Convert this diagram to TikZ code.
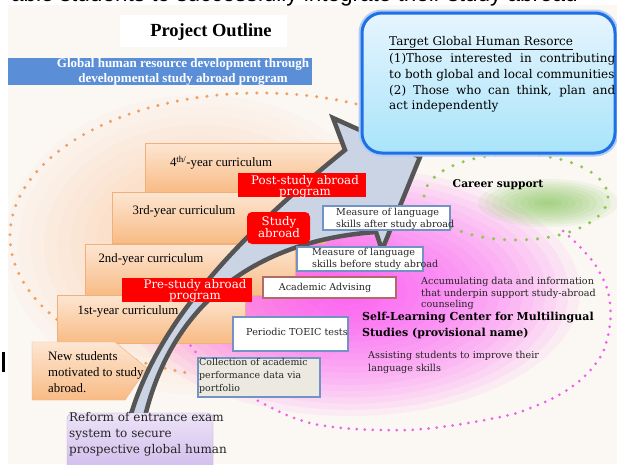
\documentclass[tikz,border=0pt]{standalone}
\usepackage{fontspec}
\setmainfont{Liberation Serif}
\newfontfamily\centfont{DejaVu Serif}
\newfontfamily\topfont{Liberation Sans}
\newcommand\fsz[2]{\fontsize{#1}{#2}\selectfont}
\definecolor{panelbg}{HTML}{FBF7F3}
\definecolor{bannerblue}{HTML}{5A8ED6}
\definecolor{targetblue}{HTML}{1F6FE5}
\definecolor{targettop}{HTML}{E6F5FE}
\definecolor{targetbot}{HTML}{A9E4FA}
\definecolor{dotorange}{HTML}{EFA064}
\definecolor{dotgreen}{HTML}{8CC84B}
\definecolor{dotpink}{HTML}{EE5FEE}
\definecolor{arrowfill}{HTML}{CBD4E4}
\definecolor{arrowline}{HTML}{555555}
\definecolor{steptop}{HTML}{FDE6D2}
\definecolor{stepbot}{HTML}{F8BB85}
\definecolor{stepline}{HTML}{F0B07C}
\definecolor{boxline}{HTML}{7393C4}
\definecolor{advline}{HTML}{B06A6A}
\definecolor{collfill}{HTML}{ECEAE0}
\definecolor{reformtop}{HTML}{EDE4F7}
\definecolor{reformbot}{HTML}{CBB5EA}
\definecolor{reformline}{HTML}{B9A2DA}
\definecolor{glowpink}{HTML}{FF3CFF}
\definecolor{glowgreen}{HTML}{6DBE3A}
\begin{document}
\begin{tikzpicture}[x=1pt, y=-1pt,
  yearbox/.style={draw=stepline, top color=steptop, bottom color=stepbot},
  yeartext/.style={font=\fsz{12.8}{16}, align=left, inner sep=0pt},
  redtext/.style={text=white, font=\centfont\fsz{11.8}{10.6}, align=center, inner sep=0pt},
  mbox/.style={draw=boxline, line width=1.5pt, fill=white},
  boxtext/.style={font=\centfont\fsz{9.6}{12.3}, text=black!85, align=left, inner sep=0pt, anchor=west},
  orangedots/.style={draw=dotorange, line width=3.4pt, line cap=round, dash pattern=on 0pt off 10pt},
  greendots/.style={draw=dotgreen, line width=3.4pt, line cap=round, dash pattern=on 0pt off 11pt},
  pinkdots/.style={draw=dotpink, line width=3pt, line cap=round, dash pattern=on 0pt off 8pt}]
\useasboundingbox (0,0) rectangle (617,464);
\fill[white] (0,0) rectangle (617,464);
\fill[panelbg] (8,5) rectangle (617,464);
\node (toptext) [font=\topfont\fsz{22.5}{24}, anchor=base east, inner sep=0pt] at (578,1)
  {able students to successfully integrate their study abroad};
\fill (2,352) rectangle (5,372);

% soft glows
\begin{scope}
  \clip (8,5) rectangle (617,464);
  \foreach \k in {1,...,15}
    \fill[orange, fill opacity=0.018] (200,245) ellipse [x radius=13*\k, y radius=10*\k];
  \foreach \k in {1,...,20}
    \fill[glowpink, fill opacity=0.062] (350,292) ellipse [x radius=11.5*\k, y radius=6.2*\k];
  \foreach \k in {1,...,10}
    \fill[glowgreen, fill opacity=0.08] (548,203) ellipse [x radius=7*\k, y radius=2.4*\k];
\end{scope}

% title and banner
\fill[white] (120,15) rectangle (287,47);
\node (title) [font=\bfseries\fsz{18.5}{20}] at (211,32) {Project Outline};
\fill[bannerblue] (8,58) rectangle (312,85);
\node (banner) [text=white, font=\bfseries\fsz{13}{15}, align=center, inner sep=0pt] at (183,72)
  {Global human resource development through\\developmental study abroad program};

% dotted rings
\draw[orangedots] (260,236) ++(-65:250 and 143) arc[start angle=-65, end angle=-254, x radius=250, y radius=143];
\draw[greendots] (516,197) ellipse [x radius=92, y radius=43];
\draw[pinkdots] plot[smooth, tension=0.7] coordinates {(563,231) (583,250) (600,273) (610,303)
  (607,340) (593,367) (567,390) (533,407) (500,417) (433,428) (383,430) (333,427) (300,420)
  (270,407) (240,390) (212,370) (190,345)};

% curriculum steps
\draw[yearbox] (145,143) rectangle (350,192);
\draw[yearbox] (112,192) rectangle (325,243);
\draw[yearbox] (85,244) rectangle (295,295);
\draw[yearbox] (57,295) rectangle (245,343);
\draw[yearbox] (32,342) -- (115,342) -- (147,368) -- (125,400) -- (32,400) -- cycle;
\node (year4) [yeartext] at (221,163) {4\textsuperscript{th/}-year curriculum};
\node (year3) [yeartext] at (184,211) {3rd-year curriculum};
\node (year2) [yeartext] at (151,259) {2nd-year curriculum};
\node (year1) [yeartext] at (128,311) {1st-year curriculum};
\node (newstud) [yeartext, anchor=west] at (48,372) {New students\\motivated to study\\abroad.};

% big arrow
\draw[arrowline, line width=4.5pt, fill=arrowfill] (128,425) .. controls (150,340) and (215,255) .. (345,150)
  -- (333,118) -- (420,157) -- (382,250) -- (376,232) .. controls (260,240) and (170,300) .. (143,425) -- cycle;

% target box
\node (targetbox) [draw=targetblue!35, line width=7pt, rounded corners=20pt, minimum width=253pt, minimum height=140pt] at (488.5,83) {};
\node (target) [draw=targetblue, line width=3pt, rounded corners=20pt, top color=targettop, bottom color=targetbot,
  minimum width=253pt, minimum height=140pt] at (488.5,83) {};
\node (targethead) [font=\centfont\fsz{12}{15.8}, anchor=west, inner sep=0pt] at (389,43) {\underline{Target Global Human Resorce}};
\node (targettext) [font=\centfont\fsz{12}{15.8}, anchor=west, inner sep=0pt, text width=226pt, align=justify] at (389,83)
  {(1)Those interested in contributing\linebreak to both global and local communities\par
   (2) Those who can think, plan and\linebreak act independently};

% red boxes
\fill[red] (238,173) rectangle (366,197);
\node (post) [redtext] at (305,187) {Post-study abroad\\program};
\fill[red, rounded corners=5pt] (247,212) rectangle (310,244);
\node (abroad) [redtext] at (279,227) {Study\\abroad};
\fill[red] (122,278) rectangle (252,302);
\node (pre) [redtext] at (195,291) {Pre-study abroad\\program};

% measure and support boxes
\draw[mbox] (323,206) rectangle (450,230);
\node (after) [boxtext] at (336,219) {Measure of language\\skills after study abroad};
\draw[mbox] (297,247) rectangle (423,271);
\node (before) [boxtext] at (312,259) {Measure of language\\skills before study abroad};
\draw[mbox, draw=advline] (263,277) rectangle (396,298);
\node (advising) [boxtext, anchor=center] at (325,288) {Academic Advising};
\draw[mbox] (233,317) rectangle (348,351);
\node (toeic) [boxtext, anchor=center] at (297,332) {Periodic TOEIC tests};
\draw[mbox, fill=collfill] (198,358) rectangle (320,397);
\node (collect) [boxtext, font=\centfont\fsz{9.4}{13}] at (199,376) {Collection of academic\\performance data via\\portfolio};
\draw[draw=reformline, rounded corners=6pt, top color=reformtop, bottom color=reformbot] (67,413) rectangle (213,480);
\node (reform) [boxtext, font=\centfont\fsz{12}{16}] at (69,434) {Reform of entrance exam\\system to secure\\prospective global human};

% free texts
\node (career) [font=\centfont\bfseries\fsz{10.7}{12}] at (498,185) {Career support};
\node (accum) [boxtext, font=\centfont\fsz{9.6}{11.7}] at (421,293.5) {Accumulating data and information\\that underpin support study-abroad\\counseling};
\node (selflearn) [boxtext, font=\centfont\bfseries\fsz{11}{16}, text=black] at (362,325) {Self-Learning Center for Multilingual\\Studies (provisional name)};
\node (assist) [boxtext, font=\centfont\fsz{9.6}{12.5}] at (368,362.5) {Assisting students to improve their\\language skills};
\end{tikzpicture}
\end{document}
